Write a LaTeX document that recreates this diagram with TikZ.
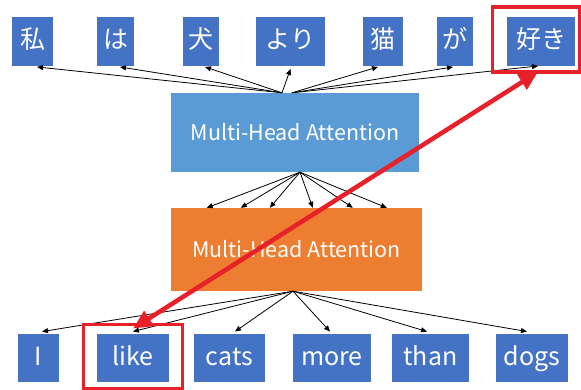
\documentclass[tikz,border=0pt]{standalone}
\usepackage{fontspec}
\setmainfont{Noto Sans CJK JP}
\usetikzlibrary{arrows.meta}
\definecolor{tokblue}{HTML}{4472C4}
\definecolor{mhablue}{HTML}{5B9BD5}
\definecolor{mhaorange}{HTML}{ED7D31}
\definecolor{hlred}{HTML}{E8202A}
\begin{document}
\begin{tikzpicture}[x=1pt,y=-1pt,
  tok/.style={fill=tokblue, text=white, inner sep=0pt, minimum height=48.5pt,
    text height=19pt, text depth=5pt, font=\fontsize{25}{25}\selectfont},
  mha/.style={text=white, inner sep=0pt, font=\fontsize{21.5}{21.5}\selectfont},
  arr/.style={-{Triangle[length=6pt,width=5pt]}, line width=0.8pt, black},
  redbox/.style={draw=hlred, line width=3.2pt},
  redarr/.style={{Triangle[length=19pt,width=17pt]}-{Triangle[length=19pt,width=17pt]}, line width=4.5pt, hlred}]
\useasboundingbox (0,0) rectangle (581,389);

% top row
\node[tok, minimum width=41pt] (w1) at (32.5,41.5) {私};
\node[tok, minimum width=37pt] (w2) at (115.5,41.5) {は};
\node[tok, minimum width=36pt] (w3) at (201,41.5) {犬};
\node[tok, minimum width=69pt] (w4) at (290.5,41.5) {より};
\node[tok, minimum width=40pt] (w5) at (383,41.5) {猫};
\node[tok, minimum width=36pt] (w6) at (455,41.5) {が};
\node[tok, minimum width=68pt] (w7) at (541,41.5) {好き};

% attention blocks
\node[mha, fill=mhablue, minimum width=248pt, minimum height=79pt] (top) at (295,132.5) {Multi-Head Attention};
\node[mha, fill=mhaorange, minimum width=251pt, minimum height=83pt] (bot) at (296.5,249.5) {Multi-Head Attention};

% bottom row
\node[tok, minimum width=41pt] (e1) at (38.5,358) {I};
\node[tok, minimum width=72pt] (e2) at (133,358) {like};
\node[tok, minimum width=71pt] (e3) at (229.5,358) {cats};
\node[tok, minimum width=78pt] (e4) at (332,358) {more};
\node[tok, minimum width=77pt] (e5) at (430.5,358) {than};
\node[tok, minimum width=72pt] (e6) at (532,358) {dogs};

% top arrows
\coordinate (tl) at ([xshift=-13pt]top.north);
\coordinate (tr) at ([xshift=-3pt]top.north);
\draw[arr] (tl) -- ([xshift=4.5pt,yshift=-1pt]w1.south);
\draw[arr] (tl) -- ([xshift=4.5pt,yshift=-1pt]w2.south);
\draw[arr] (tl) -- ([xshift=4pt,yshift=-1pt]w3.south);
\draw[arr] (tl) -- ([yshift=-3pt]w4.south);
\draw[arr] (tr) -- ([xshift=-5pt,yshift=-1pt]w5.south);
\draw[arr] (tr) -- ([xshift=-2pt,yshift=-1pt]w6.south);
\draw[arr] (tr) -- ([xshift=-3pt]w7.south);

% middle arrows
\coordinate (ms) at ([xshift=5pt]top.south);
\foreach \dx in {36,70,99,142,182,216}
  \draw[arr] (ms) -- ([xshift=\dx pt]bot.north west);

% bottom arrows
\coordinate (bs) at ([xshift=-3.5pt]bot.south);
\draw[arr] (bs) -- ([xshift=3.5pt,yshift=2pt]e1.north);
\draw[arr] (bs) -- ([yshift=2pt]e2.north);
\draw[arr] (bs) -- ([xshift=5.5pt,yshift=2pt]e3.north);
\draw[arr] (bs) -- ([xshift=-2pt,yshift=2pt]e4.north);
\draw[arr] (bs) -- ([xshift=-3.5pt,yshift=2pt]e5.north);
\draw[arr] (bs) -- ([xshift=-5pt,yshift=2pt]e6.north);

% highlight boxes
\draw[redbox] ([shift={(-13pt,9pt)}]e2.north west) rectangle ([shift={(13pt,-6pt)}]e2.south east);
\draw[redbox] ([shift={(-14pt,10pt)}]w7.north west) rectangle ([shift={(4pt,-6pt)}]w7.south east);

% red double arrow
\draw[redarr] ([yshift=5pt]e2.north) -- ([xshift=-3pt,yshift=-6pt]w7.south);
\end{tikzpicture}
\end{document}
